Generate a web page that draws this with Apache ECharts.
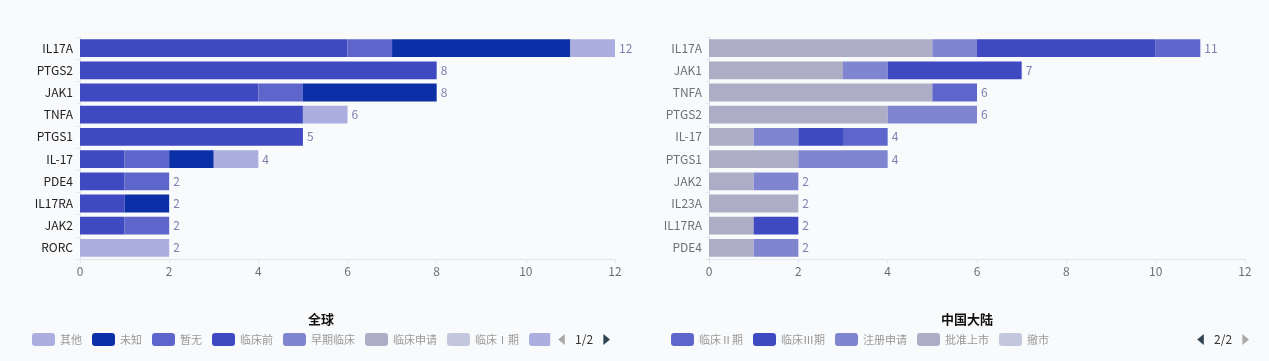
<!DOCTYPE html>
<html>
<head>
<meta charset="utf-8">
<script src="https://cdn.jsdelivr.net/npm/echarts@6/dist/echarts.min.js"></script>
<style>
html,body{margin:0;padding:0;background:#f9fafc;}
#chart{width:1269px;height:361px;}
</style>
</head>
<body>
<div id="chart"></div>
<script>
// ---- Data ----
const phaseNames = ['其他','未知','暂无','临床前','早期临床','临床申请','临床Ⅰ期','临床Ⅱ期','临床Ⅲ期','注册申请','批准上市','撤市'];

const globalTitle = '全球';
const globalCategories = ['IL17A','PTGS2','JAK1','TNFA','PTGS1','IL-17','PDE4','IL17RA','JAK2','RORC'];
const globalPreclinical = [6,8,4,5,5,1,1,1,1,0];
const globalNone        = [1,0,1,0,0,1,1,0,1,0];
const globalUnknown     = [4,0,3,0,0,1,0,1,0,0];
const globalOther       = [1,0,0,1,0,1,0,0,0,2];

const chinaTitle = '中国大陆';
const chinaCategories = ['IL17A','JAK1','TNFA','PTGS2','IL-17','PTGS1','JAK2','IL23A','IL17RA','PDE4'];
const chinaApproved     = [5,3,5,4,1,2,1,2,1,1];
const chinaRegistration = [1,1,0,2,1,2,1,0,0,1];
const chinaPhase3       = [4,3,0,0,1,0,0,0,1,0];
const chinaPhase2       = [1,0,1,0,1,0,0,0,0,0];

const valueTicks = [0,2,4,6,8,10,12];

// ---- Styles ----
const palette = ['#abaedf','#0a2fa6','#5e66cc','#3f49c1','#7f85cf','#adadc6','#c3c7dd'];
const leftColors = {}, rightColors = {};
phaseNames.forEach((n, i) => {
  leftColors[n] = palette[i % 7];
  rightColors[n] = palette[(i + 2) % 7];
});

const globalData = {'临床前':globalPreclinical,'暂无':globalNone,'未知':globalUnknown,'其他':globalOther};
const chinaData = {'批准上市':chinaApproved,'注册申请':chinaRegistration,'临床Ⅲ期':chinaPhase3,'临床Ⅱ期':chinaPhase2};

const stackOrder = phaseNames.slice().reverse();

function buildSeries(dataMap, n, idx, colorMap) {
  const out = [];
  stackOrder.forEach(name => {
    const arr = dataMap[name] || new Array(n).fill(0);
    out.push({
      type:'bar', name: name, stack:'s'+idx, xAxisIndex: idx, yAxisIndex: idx,
      barCategoryGap:'20%', itemStyle:{color: colorMap[name]},
      emphasis:{disabled:true},
      data: arr.map(v => v === 0 ? null : v)
    });
  });
  const totals = [];
  for (let i = 0; i < n; i++) {
    let s = 0;
    Object.keys(dataMap).forEach(k => { s += dataMap[k][i]; });
    totals.push([s, i]);
  }
  out.push({
    type:'scatter', name:'total'+idx, xAxisIndex: idx, yAxisIndex: idx,
    symbolSize: 0, silent: true,
    label:{show:true, position:'right', distance:4, color:'#5f629c', fontSize:12,
      formatter: p => p.value[0]},
    data: totals
  });
  return out;
}

const axisLabelColor = '#6e7079';
function valueAxis(idx) {
  return {
    type:'value', gridIndex: idx, min: valueTicks[0], max: valueTicks[valueTicks.length-1], interval: 2,
    axisLine:{show:true, lineStyle:{color:'#e0e6f1'}},
    axisTick:{show:true, length:4, lineStyle:{color:'#e0e6f1'}},
    splitLine:{show:false},
    axisLabel:{color:axisLabelColor, fontSize:12, margin:6}
  };
}
function catAxis(idx, cats, labelColor) {
  return {
    type:'category', gridIndex: idx, data: cats, inverse: true,
    axisLine:{show:true, lineStyle:{color:'#e0e6f1'}},
    axisTick:{show:true, length:3, lineStyle:{color:'#e0e6f1'}},
    axisLabel:{color:labelColor, fontSize:12, margin:7}
  };
}

function legend(left, scrollIndex, colorMap) {
  return {
    type:'scroll', orient:'horizontal', left:left, top:328, width:578,
    itemWidth:23, itemHeight:13, itemGap:10, icon:'roundRect',
    textStyle:{color:'#999', fontSize:11},
    pageIconSize:11, pageButtonItemGap:5, pageButtonGap:8,
    pageTextStyle:{color:'#333', fontSize:12},
    pageIconColor:'#2f4554', pageIconInactiveColor:'#aaa',
    scrollDataIndex: scrollIndex,
    data: phaseNames.map(n => ({name:n, itemStyle:{color: colorMap[n]}})),
    selectedMode: false
  };
}

const chart = echarts.init(document.getElementById('chart'));
chart.setOption({
  backgroundColor:'#f9fafc',
  animation:false,
  textStyle:{fontFamily:'"Noto Sans CJK SC", "Noto Sans", sans-serif'},
  title:[
    {text: globalTitle, left: 316, top: 308, textAlign:'center',
     textStyle:{fontSize:13, fontWeight:'bold', color:'#111'}},
    {text: chinaTitle, left: 962, top: 308, textAlign:'center',
     textStyle:{fontSize:13, fontWeight:'bold', color:'#111'}}
  ],
  legend:[legend(27, 0, leftColors), legend(666, 7, rightColors)],
  grid:[
    {left:80, top:37, width:535, height:222, containLabel:false},
    {left:709, top:37, width:536, height:222, containLabel:false}
  ],
  xAxis:[valueAxis(0), valueAxis(1)],
  yAxis:[catAxis(0, globalCategories, '#222'), catAxis(1, chinaCategories, axisLabelColor)],
  series: buildSeries(globalData, globalCategories.length, 0, leftColors)
    .concat(buildSeries(chinaData, chinaCategories.length, 1, rightColors))
});
</script>
</body>
</html>
